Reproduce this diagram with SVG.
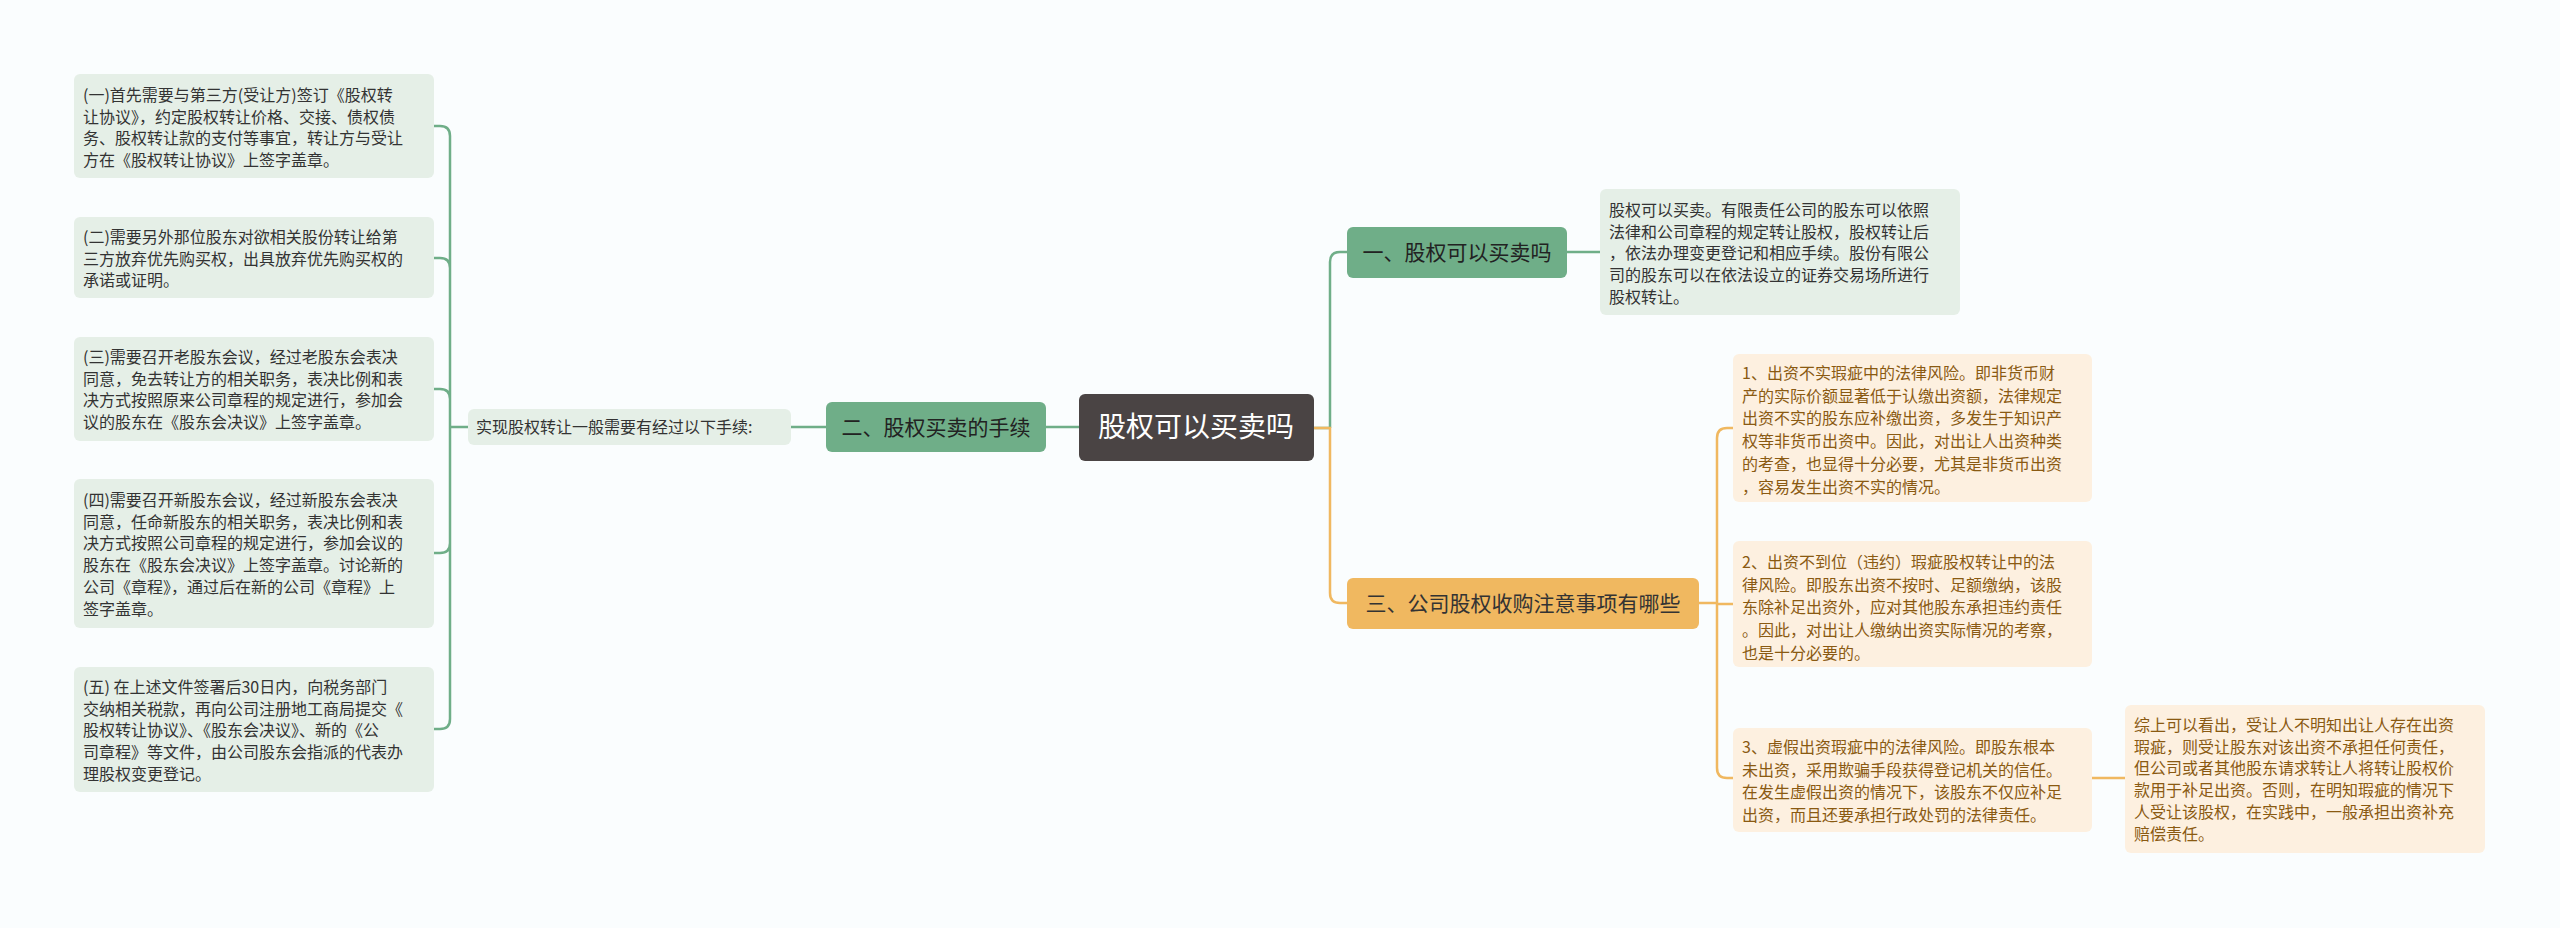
<svg xmlns="http://www.w3.org/2000/svg" width="2560" height="928" viewBox="0 0 2560 928">
<style>
text{font-family:"Noto Sans CJK SC","Liberation Sans",sans-serif;}
.lg{fill:#e5efe7;}
.lo{fill:#fdf0e0;}
.t{font-size:16px;fill:#333;}
.to{font-size:16px;fill:#8a5a12;}
.g{stroke:#6fae88;stroke-width:2.5;fill:none;}
.o{stroke:#f0b860;stroke-width:2.5;fill:none;}
</style>
<rect width="2560" height="928" fill="#fafdfe"/>
<g id="connectors">
<path class="g" d="M1314 428 H1330 M1330 428 V262 Q1330 252 1340 252 H1347"/>
<path class="o" d="M1314 428 H1330 V593 Q1330 603 1340 603 H1347"/>
<path class="g" d="M1567 252 H1600"/>
<path class="o" d="M1699 603 H1717 M1733 428 H1727 Q1717 428 1717 438 V768 Q1717 778 1727 778 H1733 M1717 604 H1733"/>
<path class="o" d="M2092 778 H2125"/>
<path class="g" d="M1046 427 H1079 M791 427 H826"/>
<path class="g" d="M468 427 H450 M434 126 H440 Q450 126 450 136 V719 Q450 729 440 729 H434 M434 258 H440 Q450 258 450 268 M434 389 H440 Q450 389 450 399 M434 553 H440 Q450 553 450 543"/>
</g>
<g id="center"><rect x="1079" y="394" width="235" height="67" rx="6" fill="#4a4444"/><text x="1196" y="437" font-size="28" fill="#fff" text-anchor="middle">股权可以买卖吗</text></g>
<g id="b1"><rect x="1347" y="227" width="220" height="51" rx="6" fill="#6fae88"/><text x="1457" y="260" font-size="21" fill="#222" text-anchor="middle">一、股权可以买卖吗</text></g>
<g id="b2"><rect x="826" y="402" width="220" height="50" rx="6" fill="#6fae88"/><text x="936" y="435" font-size="21" fill="#222" text-anchor="middle">二、股权买卖的手续</text></g>
<g id="b3"><rect x="1347" y="578" width="352" height="51" rx="6" fill="#f0b860"/><text x="1523" y="611" font-size="21" fill="#333" text-anchor="middle">三、公司股权收购注意事项有哪些</text></g>
<g id="r1"><rect class="lg" x="1600" y="189" width="360" height="126" rx="6"/>
<text class="t" x="1609" y="216"><tspan x="1609">股权可以买卖。有限责任公司的股东可以依照</tspan><tspan x="1609" dy="21.7">法律和公司章程的规定转让股权，股权转让后</tspan><tspan x="1609" dy="21.7">，依法办理变更登记和相应手续。股份有限公</tspan><tspan x="1609" dy="21.7">司的股东可以在依法设立的证券交易场所进行</tspan><tspan x="1609" dy="21.7">股权转让。</tspan></text></g>
<g id="o1"><rect class="lo" x="1733" y="354" width="359" height="148" rx="6"/>
<text class="to" x="1742" y="379"><tspan x="1742">1、出资不实瑕疵中的法律风险。即非货币财</tspan><tspan x="1742" dy="22.7">产的实际价额显著低于认缴出资额，法律规定</tspan><tspan x="1742" dy="22.7">出资不实的股东应补缴出资，多发生于知识产</tspan><tspan x="1742" dy="22.7">权等非货币出资中。因此，对出让人出资种类</tspan><tspan x="1742" dy="22.7">的考查，也显得十分必要，尤其是非货币出资</tspan><tspan x="1742" dy="22.7">，容易发生出资不实的情况。</tspan></text></g>
<g id="o2"><rect class="lo" x="1733" y="541" width="359" height="126" rx="6"/>
<text class="to" x="1742" y="568"><tspan x="1742">2、出资不到位（违约）瑕疵股权转让中的法</tspan><tspan x="1742" dy="22.7">律风险。即股东出资不按时、足额缴纳，该股</tspan><tspan x="1742" dy="22.7">东除补足出资外，应对其他股东承担违约责任</tspan><tspan x="1742" dy="22.7">。因此，对出让人缴纳出资实际情况的考察，</tspan><tspan x="1742" dy="22.7">也是十分必要的。</tspan></text></g>
<g id="o3"><rect class="lo" x="1733" y="728" width="359" height="104" rx="6"/>
<text class="to" x="1742" y="753"><tspan x="1742">3、虚假出资瑕疵中的法律风险。即股东根本</tspan><tspan x="1742" dy="22.7">未出资，采用欺骗手段获得登记机关的信任。</tspan><tspan x="1742" dy="22.7">在发生虚假出资的情况下，该股东不仅应补足</tspan><tspan x="1742" dy="22.7">出资，而且还要承担行政处罚的法律责任。</tspan></text></g>
<g id="o4"><rect class="lo" x="2125" y="705" width="360" height="148" rx="6"/>
<text class="to" x="2134" y="731"><tspan x="2134">综上可以看出，受让人不明知出让人存在出资</tspan><tspan x="2134" dy="21.7">瑕疵，则受让股东对该出资不承担任何责任，</tspan><tspan x="2134" dy="21.7">但公司或者其他股东请求转让人将转让股权价</tspan><tspan x="2134" dy="21.7">款用于补足出资。否则，在明知瑕疵的情况下</tspan><tspan x="2134" dy="21.7">人受让该股权，在实践中，一般承担出资补充</tspan><tspan x="2134" dy="21.7">赔偿责任。</tspan></text></g>
<g id="mid"><rect class="lg" x="468" y="409" width="323" height="36" rx="6"/><text class="t" x="476" y="433">实现股权转让一般需要有经过以下手续:</text></g>
<g id="l1"><rect class="lg" x="74" y="74" width="360" height="104" rx="6"/>
<text class="t" x="83" y="101"><tspan x="83">(一)首先需要与第三方(受让方)签订《股权转</tspan><tspan x="83" dy="21.7">让协议》，约定股权转让价格、交接、债权债</tspan><tspan x="83" dy="21.7">务、股权转让款的支付等事宜，转让方与受让</tspan><tspan x="83" dy="21.7">方在《股权转让协议》上签字盖章。</tspan></text></g>
<g id="l2"><rect class="lg" x="74" y="217" width="360" height="81" rx="6"/>
<text class="t" x="83" y="243"><tspan x="83">(二)需要另外那位股东对欲相关股份转让给第</tspan><tspan x="83" dy="21.7">三方放弃优先购买权，出具放弃优先购买权的</tspan><tspan x="83" dy="21.7">承诺或证明。</tspan></text></g>
<g id="l3"><rect class="lg" x="74" y="337" width="360" height="104" rx="6"/>
<text class="t" x="83" y="363"><tspan x="83">(三)需要召开老股东会议，经过老股东会表决</tspan><tspan x="83" dy="21.7">同意，免去转让方的相关职务，表决比例和表</tspan><tspan x="83" dy="21.7">决方式按照原来公司章程的规定进行，参加会</tspan><tspan x="83" dy="21.7">议的股东在《股东会决议》上签字盖章。</tspan></text></g>
<g id="l4"><rect class="lg" x="74" y="479" width="360" height="149" rx="6"/>
<text class="t" x="83" y="506"><tspan x="83">(四)需要召开新股东会议，经过新股东会表决</tspan><tspan x="83" dy="21.7">同意，任命新股东的相关职务，表决比例和表</tspan><tspan x="83" dy="21.7">决方式按照公司章程的规定进行，参加会议的</tspan><tspan x="83" dy="21.7">股东在《股东会决议》上签字盖章。讨论新的</tspan><tspan x="83" dy="21.7">公司《章程》，通过后在新的公司《章程》上</tspan><tspan x="83" dy="21.7">签字盖章。</tspan></text></g>
<g id="l5"><rect class="lg" x="74" y="667" width="360" height="125" rx="6"/>
<text class="t" x="83" y="693"><tspan x="83">(五) 在上述文件签署后30日内，向税务部门</tspan><tspan x="83" dy="21.7">交纳相关税款，再向公司注册地工商局提交《</tspan><tspan x="83" dy="21.7">股权转让协议》、《股东会决议》、新的《公</tspan><tspan x="83" dy="21.7">司章程》等文件，由公司股东会指派的代表办</tspan><tspan x="83" dy="21.7">理股权变更登记。</tspan></text></g>
</svg>
